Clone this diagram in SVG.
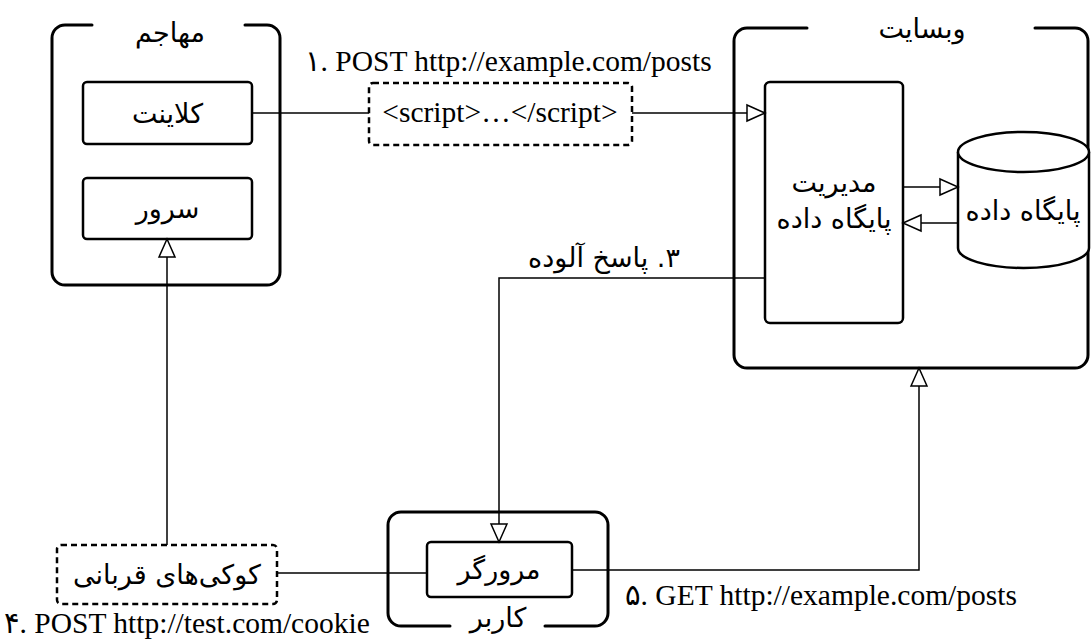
<svg xmlns="http://www.w3.org/2000/svg" width="1091" height="640" viewBox="0 0 1091 640">
  <style>
    .frame { fill: none; stroke: #000; stroke-width: 3; stroke-linecap: round; stroke-linejoin: round; }
    .box { fill: #fff; stroke: #000; stroke-width: 2.5; }
    .dash { fill: #fff; stroke: #000; stroke-width: 2.5; stroke-dasharray: 6 4; }
    .wire { fill: none; stroke: #000; stroke-width: 1.5; }
    .fa { font-family: "DejaVu Sans", "Noto Sans", sans-serif; font-size: 27px; fill: #000; text-anchor: middle; direction: rtl; }
    .lat { font-family: "Liberation Serif", "DejaVu Serif", serif; font-size: 29.5px; fill: #000; }
    .num { font-family: "DejaVu Sans", sans-serif; font-size: 29px; }
  </style>
  <defs>
    <marker id="tri" markerUnits="userSpaceOnUse" markerWidth="22" markerHeight="22" viewBox="0 0 22 22" refX="20" refY="11" orient="auto">
      <path d="M2,3 L20,11 L2,19 Z" fill="#fff" stroke="#000" stroke-width="1.5"/>
    </marker>
  </defs>

  <!-- attacker container -->
  <g id="attacker">
    <path class="frame" d="M92,25 H65 A13,13 0 0 0 52,38 V272 A13,13 0 0 0 65,285 H267 A13,13 0 0 0 280,272 V38 A13,13 0 0 0 267,25 H245"/>
    <text class="fa" x="170" y="42">مهاجم</text>
  </g>
  <g id="client">
    <rect class="box" x="83" y="82" width="169" height="62" rx="4"/>
    <text class="fa" x="167.5" y="123">کلاینت</text>
  </g>
  <g id="server">
    <rect class="box" x="83" y="178" width="169" height="61" rx="4"/>
    <text class="fa" x="167.5" y="218">سرور</text>
  </g>

  <!-- website container -->
  <g id="website">
    <path class="frame" d="M807,28 H747 A13,13 0 0 0 734,41 V355 A13,13 0 0 0 747,368 H1075 A13,13 0 0 0 1088,355 V41 A13,13 0 0 0 1075,28 H1035"/>
    <text class="fa" x="922" y="38">وبسایت</text>
  </g>
  <g id="db-manager">
    <rect class="box" x="765" y="82" width="138" height="241" rx="5"/>
    <text class="fa" x="834" y="192">مدیریت</text>
    <text class="fa" x="834" y="228">پایگاه داده</text>
  </g>
  <g id="database">
    <path class="box" d="M958,152 V248 A65.5,20 0 0 0 1089,248 V152"/>
    <ellipse class="box" cx="1023.5" cy="152" rx="65.5" ry="20"/>
    <text class="fa" x="1023" y="220">پایگاه داده</text>
  </g>

  <!-- injected payload -->
  <g id="payload">
    <rect class="dash" x="369" y="83" width="263" height="62" rx="4"/>
    <text class="lat" x="500" y="122" text-anchor="middle">&lt;script&gt;…&lt;/script&gt;</text>
  </g>

  <!-- user container -->
  <g id="user">
    <path class="frame" d="M450,626 H401 A13,13 0 0 1 388,613 V525 A13,13 0 0 1 401,512 H595 A13,13 0 0 1 608,525 V613 A13,13 0 0 1 595,626 H545"/>
    <text class="fa" x="498" y="627">کاربر</text>
  </g>
  <g id="browser">
    <rect class="box" x="427" y="542" width="145" height="55" rx="4"/>
    <text class="fa" x="499" y="579">مرورگر</text>
  </g>

  <!-- stolen cookies -->
  <g id="cookies">
    <rect class="dash" x="57" y="545" width="220" height="59" rx="4"/>
    <text class="fa" x="167" y="584">کوکی‌های قربانی</text>
  </g>

  <!-- connectors -->
  <g id="connectors">
    <path class="wire" d="M252,113 H369"/>
    <path class="wire" d="M632,113 H765" marker-end="url(#tri)"/>
    <path class="wire" d="M903,187 H958" marker-end="url(#tri)"/>
    <path class="wire" d="M958,223 H903" marker-end="url(#tri)"/>
    <path class="wire" d="M765,278 H499 V542" marker-end="url(#tri)"/>
    <path class="wire" d="M167,545 V239" marker-end="url(#tri)"/>
    <path class="wire" d="M277,573 H427"/>
    <path class="wire" d="M572,570 H919 V368" marker-end="url(#tri)"/>
  </g>

  <!-- step labels -->
  <g id="labels">
    <text class="lat" x="305" y="71"><tspan class="num">۱</tspan>. POST http://example.com/posts</text>
    <text class="fa" x="604" y="267">۳. پاسخ آلوده</text>
    <text class="lat" x="4" y="633"><tspan class="num">۴</tspan>. POST http://test.com/cookie</text>
    <text class="lat" x="625" y="605"><tspan class="num">۵</tspan>. GET http://example.com/posts</text>
  </g>
</svg>
